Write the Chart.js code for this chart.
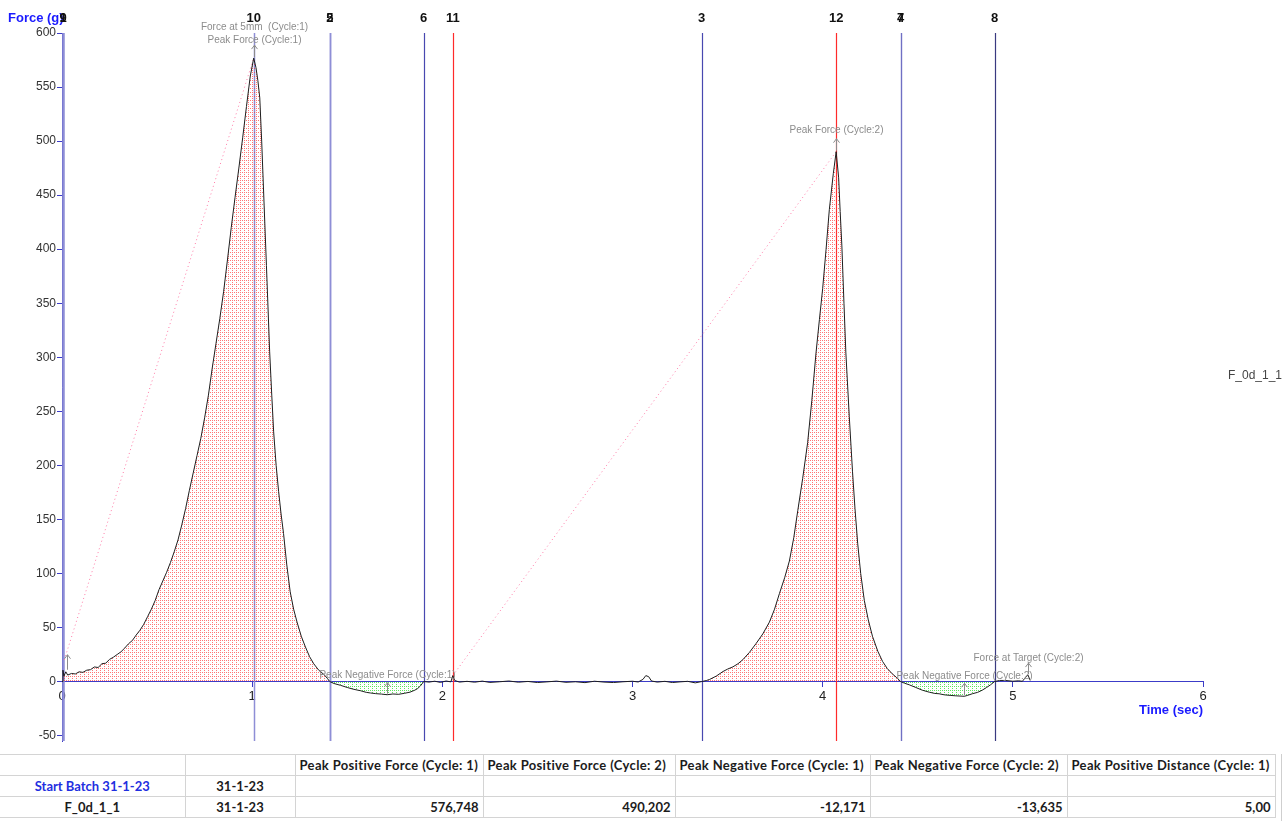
<!DOCTYPE html>
<html>
<head>
<meta charset="utf-8">
<script src="https://cdn.jsdelivr.net/npm/chart.js@4.4.1/dist/chart.umd.min.js"></script>
<style>
  html, body { margin: 0; padding: 0; background: #fff; }
  #wrap { position: relative; width: 1288px; height: 821px; overflow: hidden; }
  #chart { position: absolute; left: 0; top: 0; }
  #results { position: absolute; left: 0; top: 754px; border-collapse: collapse; table-layout: fixed;
             font-family: Lato, "Open Sans", sans-serif; font-weight: 700; font-size: 13px; color: #1c1c1c; }
  #results td { border-top: 1px solid #d4d4d4; border-bottom: 1px solid #d4d4d4; border-right: 1px solid #d4d4d4;
                height: 20px; padding: 0 4px; white-space: nowrap; overflow: hidden; text-overflow: clip; }
  #results tr.head td { letter-spacing: 0.35px; }
  #results td.c { text-align: center; }
  #results td.r { text-align: right; }
  #results td.batch { color: #1f2fe0; }
  #edge { position: absolute; left: 1281px; top: 754px; width: 1px; height: 67px; background: #cfcfcf; }
</style>
</head>
<body>
<div id="wrap">
  <canvas id="chart" width="1288" height="750"></canvas>
  <table id="results"></table>
  <div id="edge"></div>
</div>
<script>
// ---- force / time trace, [time (s), force (g)] ----
const rise1 = [[0.000,0],[0.005,10.5],[0.010,5],[0.020,9],[0.030,6],[0.050,7.5],[0.070,7],[0.090,9],[0.110,8.5],
  [0.130,10.5],[0.150,11],[0.170,13.5],[0.190,13],[0.210,16.5],[0.230,17],[0.250,20.5],[0.270,22.5],[0.290,25],
  [0.310,27.5],[0.330,31],[0.350,35],[0.370,38],[0.390,43],[0.410,47.5],[0.430,53],[0.450,60],[0.470,67],[0.490,75],
  [0.510,85],[0.530,93],[0.550,101],[0.570,110],[0.590,120],[0.610,131],[0.630,145],[0.650,160],[0.670,177],
  [0.690,193],[0.710,209],[0.730,225],[0.750,244],[0.770,265],[0.790,290],[0.810,313],[0.830,336],[0.850,361],
  [0.870,390],[0.890,420],[0.910,448],[0.930,475],[0.950,503],[0.970,532],[0.990,560],[1.008,576.748]];
const fall1 = [[1.020,568],[1.030,556],[1.040,540],[1.050,500],[1.063,440],[1.075,385],[1.092,305],[1.103,265],
  [1.113,231],[1.126,200],[1.139,176],[1.152,155],[1.165,137],[1.182,108],[1.200,83],[1.218,67],[1.236,55],
  [1.258,42],[1.280,32],[1.302,23],[1.324,16.4],[1.350,10.5],[1.377,6.6],[1.395,3],[1.408,0]];
const neg1 = [[1.430,-1.8],[1.465,-3.5],[1.500,-5.5],[1.535,-7.2],[1.570,-8.5],[1.600,-10],[1.623,-10.6],
  [1.650,-11.2],[1.680,-11.6],[1.710,-12.171],[1.740,-11.5],[1.770,-11.8],[1.800,-10.9],[1.830,-9.8],[1.855,-8],
  [1.870,-6.5],[1.885,-4],[1.896,-1.5],[1.902,0]];
const rest = [[1.930,-0.5],[1.960,0.3],[1.990,-0.8],[2.020,0.5],[2.045,-0.3],[2.055,5.5],[2.065,1],[2.090,-0.5],
  [2.130,0.2],[2.170,-0.6],[2.210,0.4],[2.250,-0.8],[2.300,-0.2],[2.350,0.5],[2.400,-0.6],[2.450,0.1],[2.500,-0.9],
  [2.550,-0.3],[2.600,0.4],[2.650,-0.7],[2.700,-0.2],[2.750,-1],[2.800,0.3],[2.850,-0.5],[2.900,-0.9],[2.950,-0.2],
  [3.000,0.3],[3.030,-0.4],[3.055,2],[3.070,5.5],[3.085,4.5],[3.100,0.5],[3.130,-0.5],[3.170,0.2],[3.210,-0.9],
  [3.250,-0.3],[3.290,0.2],[3.330,-1.2],[3.364,0]];
const rise2 = [[3.390,1],[3.406,2],[3.440,5],[3.476,9.3],[3.500,11.5],[3.528,13.6],[3.555,16.5],[3.580,20.2],
  [3.615,27],[3.650,35.2],[3.685,44],[3.720,55],[3.747,67],[3.773,81.6],[3.800,96],[3.825,111.5],[3.848,133],
  [3.869,158],[3.895,188],[3.921,221],[3.943,260],[3.965,304],[3.983,335],[4.000,363.5],[4.018,400],[4.035,436.5],
  [4.056,470],[4.071,490.202]];
const fall2 = [[4.084,466],[4.092,435],[4.101,403],[4.112,350],[4.122,304],[4.140,245],[4.157,194],[4.170,160],
  [4.184,128],[4.200,100],[4.219,75],[4.240,57],[4.262,41.8],[4.290,28],[4.315,18.6],[4.340,12],[4.367,7],
  [4.390,3.5],[4.410,0]];
const neg2 = [[4.430,-1.5],[4.455,-3],[4.490,-5.5],[4.524,-8],[4.560,-9.8],[4.590,-11],[4.612,-11.3],[4.640,-12.3],
  [4.670,-12.8],[4.700,-13.2],[4.745,-13.635],[4.760,-12.9],[4.787,-11.3],[4.815,-10],[4.839,-8],[4.862,-5.5],
  [4.883,-3],[4.904,0]];
const tail = [[4.930,1],[4.962,1],[5.000,0.3],[5.031,0.7],[5.050,0.2],[5.066,3.6],[5.080,6],[5.090,1.5]];

// ---- event markers ----
const markerTimes  = [0.006, 0.006, 1.008, 1.408, 1.408, 1.902, 2.055, 3.364, 4.071, 4.410, 4.410, 4.904];
const markerLabels = ['1',   '9',   '10',  '2',   '5',   '6',   '11',  '3',   '12',  '4',   '7',   '8'];

// ---- gradient (slope) segments: [t0, f0, t1, f1] ----
const slope1 = [0.012, 20, 1.008, 576.748];
const slope2 = [2.055, 5.5, 4.071, 490.202];

// ---- axis ticks ----
const xTicks = [0, 1, 2, 3, 4, 5, 6];
const yTicks = [-50, 0, 50, 100, 150, 200, 250, 300, 350, 400, 450, 500, 550, 600];

// ---- results table ----
const tableHeader = ['', '', 'Peak Positive Force (Cycle: 1)', 'Peak Positive Force (Cycle: 2)',
  'Peak Negative Force (Cycle: 1)', 'Peak Negative Force (Cycle: 2)', 'Peak Positive Distance (Cycle: 1)'];
const batchRow  = ['Start Batch 31-1-23', '31-1-23', '', '', '', '', ''];
const sampleRow = ['F_0d_1_1', '31-1-23', '576,748', '490,202', '-12,171', '-13,635', '5,00'];

// ---------------------------------------------------------------------------
const AXIS_BLUE = '#3c3cc8';
const markerColor = {
  '1': '#8e8ed6', '9': '#8e8ed6', '10': '#8e8ed6', '2': '#8e8ed6', '5': '#8e8ed6',
  '6': '#4848b0', '3': '#4848b0', '4': '#7070c4', '7': '#7070c4', '8': '#3a3a80',
  '11': '#ff2a2a', '12': '#ff2a2a'
};
const markerWidth = { '1': 2, '9': 2, '10': 1.5, '2': 1.5, '5': 1.5 };

// annotation call-outs anchored on trace values
const notes = [
  { text: 'Force at 5mm  (Cycle:1)',        t: 1.008, f: 576.748, dy: -31 },
  { text: 'Peak Force (Cycle:1)',           t: 1.008, f: 576.748, dy: -18, arrow: 12 },
  { text: 'Peak Force (Cycle:2)',           t: 4.071, f: 490.202, dy: -21, arrow: 12 },
  { text: 'Peak Negative Force (Cycle:1)',  t: 1.710, f: -12.171, dy: -19, arrow: 11 },
  { text: 'Peak Negative Force (Cycle:2)',  t: 4.745, f: -13.635, dy: -20, arrow: 12 },
  { text: 'Force at Target (Cycle:2)',      t: 5.080, f: 6,       dy: -17, arrow: 11 },
  { text: '',                               t: 0.025, f: 10,      dy: 0,   arrow: 15 }
];

function dotPattern(color, dots) {
  const c = document.createElement('canvas');
  c.width = 4; c.height = 4;
  const g = c.getContext('2d');
  g.fillStyle = color;
  dots.forEach(d => g.fillRect(d[0], d[1], 1, 1));
  return g.createPattern(c, 'repeat');
}

const pts = arr => arr.map(p => ({ x: p[0], y: p[1] }));
const trace = [].concat(rise1, fall1, neg1, rest, rise2, fall2, neg2, tail);

const redFill = dotPattern('rgba(255,60,60,0.7)', [[0, 0], [0, 2], [2, 0]]);
const greenFill = dotPattern('rgba(40,220,40,0.75)', [[0, 0], [0, 2], [2, 2]]);

const base = { pointRadius: 0, tension: 0, borderWidth: 0 };
const datasets = [
  { ...base, label: 'F_0d_1_1', data: pts(trace), borderColor: '#1e1e1e', borderWidth: 1, fill: false },
  { ...base, data: pts([].concat(rise1, fall1)), fill: 'origin', backgroundColor: redFill, borderColor: 'rgba(0,0,0,0)' },
  { ...base, data: pts([[1.408, 0]].concat(neg1)), fill: 'origin', backgroundColor: greenFill, borderColor: 'rgba(0,0,0,0)' },
  { ...base, data: pts([[3.364, 0]].concat(rise2, fall2)), fill: 'origin', backgroundColor: redFill, borderColor: 'rgba(0,0,0,0)' },
  { ...base, data: pts([[4.410, 0]].concat(neg2)), fill: 'origin', backgroundColor: greenFill, borderColor: 'rgba(0,0,0,0)' },
  { ...base, data: [{ x: slope1[0], y: slope1[1] }, { x: slope1[2], y: slope1[3] }], borderColor: '#ff7aa6', borderWidth: 1, borderDash: [1, 3], fill: false },
  { ...base, data: [{ x: slope2[0], y: slope2[1] }, { x: slope2[2], y: slope2[3] }], borderColor: '#ff7aa6', borderWidth: 1, borderDash: [1, 3], fill: false }
];

function drawArrow(ctx, x, y1, len) {
  const y2 = y1 - len;
  ctx.beginPath();
  ctx.moveTo(x, y1); ctx.lineTo(x, y2);
  ctx.moveTo(x - 3, y2 + 4); ctx.lineTo(x, y2); ctx.lineTo(x + 3, y2 + 4);
  ctx.stroke();
}

const overlay = {
  id: 'overlay',
  beforeDatasetsDraw(chart) {
    const { ctx, chartArea: a, scales: { x } } = chart;
    ctx.save();
    markerTimes.forEach((t, i) => {
      const lbl = markerLabels[i];
      const px = Math.round(x.getPixelForValue(t)) + 0.5;
      ctx.strokeStyle = markerColor[lbl];
      ctx.lineWidth = markerWidth[lbl] || 1.2;
      ctx.beginPath(); ctx.moveTo(px, a.top); ctx.lineTo(px, a.bottom); ctx.stroke();
    });
    ctx.restore();
  },
  afterDraw(chart) {
    const { ctx, chartArea: a, scales: { x, y } } = chart;
    ctx.save();
    ctx.font = 'bold 13px "Liberation Sans", Arial, sans-serif';
    ctx.textBaseline = 'middle';
    // axis titles
    ctx.fillStyle = '#1a1aff';
    ctx.textAlign = 'left';
    ctx.fillText('Force (g)', 8, 18);
    ctx.textAlign = 'right';
    ctx.fillText('Time (sec)', a.right, 710);
    // marker numbers
    ctx.fillStyle = '#111';
    ctx.textAlign = 'center';
    markerTimes.forEach((t, i) => {
      ctx.fillText(markerLabels[i], x.getPixelForValue(t), 18);
    });
    // series name
    ctx.font = '12px "Liberation Sans", Arial, sans-serif';
    ctx.fillStyle = '#444';
    ctx.textAlign = 'left';
    ctx.fillText(chart.data.datasets[0].label, 1228, 376);
    // call-outs
    ctx.font = '10px "Liberation Sans", Arial, sans-serif';
    ctx.fillStyle = '#8c8c8c';
    ctx.strokeStyle = '#8c8c8c';
    ctx.lineWidth = 1;
    ctx.textAlign = 'center';
    notes.forEach(n => {
      const px = Math.round(x.getPixelForValue(n.t)) + 0.5;
      const py = y.getPixelForValue(n.f);
      if (n.arrow) drawArrow(ctx, px, py - 1, n.arrow);
      if (n.text) ctx.fillText(n.text, px, py + n.dy);
    });
    ctx.restore();
  }
};

new Chart(document.getElementById('chart'), {
  type: 'line',
  data: { datasets },
  plugins: [overlay],
  options: {
    responsive: false,
    animation: false,
    events: [],
    layout: { padding: { left: 0, top: 33, right: 85, bottom: 9 } },
    plugins: { legend: { display: false }, tooltip: { enabled: false } },
    scales: {
      x: {
        type: 'linear', min: 0, max: 6, position: { y: 0 },
        afterBuildTicks: s => { s.ticks = xTicks.map(v => ({ value: v })); },
        grid: { display: true, drawOnChartArea: false, drawTicks: true, tickLength: 5, color: AXIS_BLUE },
        border: { display: true, color: AXIS_BLUE, width: 1 },
        ticks: { color: '#222', font: { family: '"Liberation Sans", Arial, sans-serif', size: 13 },
                 padding: 2, maxRotation: 0, autoSkip: false }
      },
      y: {
        type: 'linear', min: -55, max: 600,
        afterBuildTicks: s => { s.ticks = yTicks.map(v => ({ value: v })); },
        afterFit: s => { s.width = 62; },
        grid: { display: true, drawOnChartArea: false, drawTicks: true, tickLength: 5, color: AXIS_BLUE },
        border: { display: true, color: AXIS_BLUE, width: 1 },
        ticks: { color: '#333', font: { family: '"Liberation Sans", Arial, sans-serif', size: 12 }, padding: 1 }
      }
    }
  }
});

// results table
const widths = [185, 110, 188, 192, 195, 197, 208];
const table = document.getElementById('results');
const cg = document.createElement('colgroup');
widths.forEach(w => { const c = document.createElement('col'); c.style.width = w + 'px'; cg.appendChild(c); });
table.appendChild(cg);
table.style.width = widths.reduce((s, w) => s + w, 0) + 'px';
function addRow(cells, kind) {
  const tr = document.createElement('tr');
  tr.className = kind;
  cells.forEach((txt, i) => {
    const td = document.createElement('td');
    td.textContent = txt;
    if (kind === 'head') td.className = i < 2 ? 'c' : '';
    else td.className = i < 2 ? 'c' : 'r';
    if (kind === 'batch' && i === 0) td.className += ' batch';
    tr.appendChild(td);
  });
  table.appendChild(tr);
}
addRow(tableHeader, 'head');
addRow(batchRow, 'batch');
addRow(sampleRow, 'data');
</script>
</body>
</html>
